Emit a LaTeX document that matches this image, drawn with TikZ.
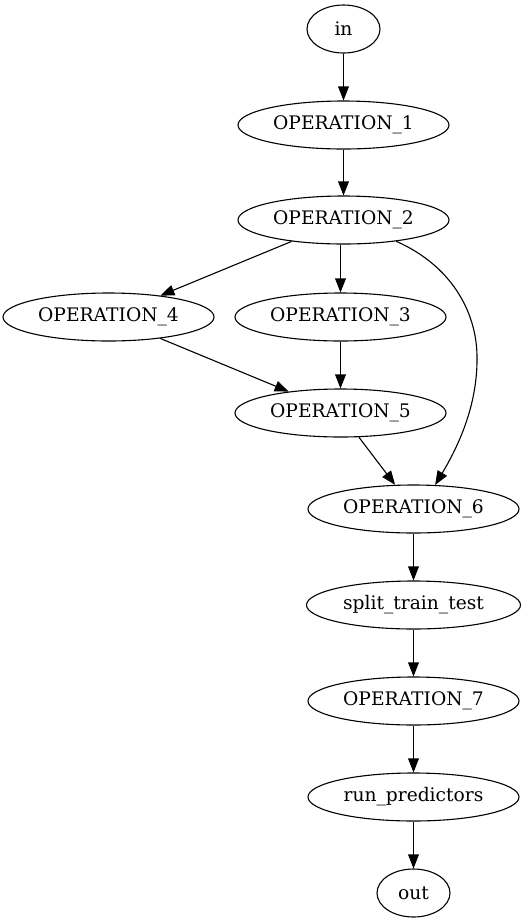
\documentclass[tikz,border=0pt]{standalone}
\usepackage{fontspec}
\setmainfont{DejaVu Serif}
\usetikzlibrary{shapes.geometric,arrows.meta}
\begin{document}
\begin{tikzpicture}[x=0.5pt,y=-0.5pt,
  op/.style={draw,ellipse,line width=0.55pt,inner sep=0pt,minimum width=105.5pt,minimum height=24pt,font=\fontsize{9.33}{11}\selectfont},
  small/.style={op,minimum width=36.5pt},
  wide/.style={op,minimum width=107pt},
  edge/.style={line width=0.55pt,-{Triangle[length=7pt,width=5.4pt]}}]
\useasboundingbox (0,0) rectangle (527,923);
\node[small] (in) at (343.5,29) {in};
\node[op] (o1) at (343.5,125) {OPERATION\_1};
\node[op] (o2) at (343.5,220) {OPERATION\_2};
\node[op] (o4) at (108.5,317) {OPERATION\_4};
\node[op] (o3) at (340.5,317) {OPERATION\_3};
\node[op] (o5) at (340.5,413) {OPERATION\_5};
\node[op] (o6) at (413.5,509) {OPERATION\_6};
\node[wide] (stt) at (413.5,605) {split\_train\_test};
\node[op] (o7) at (413.5,701) {OPERATION\_7};
\node[op] (rp) at (413.5,797) {run\_predictors};
\node[small] (out) at (413.5,893) {out};
\draw[edge] (in) -- (o1);
\draw[edge] (o1) -- (o2);
\draw[edge] (o2) -- (o4);
\draw[edge] (o2.south -| o3) -- (o3);
\draw[edge] (o4) -- (o5);
\draw[edge] (o3) -- (o5);
\draw[edge] (o5) -- (o6);
\draw[edge] (o2.-22) .. controls (450,265) and (476,310) .. (477,355) .. controls (478,400) and (462,440) .. (o6.48);
\draw[edge] (o6) -- (stt);
\draw[edge] (stt) -- (o7);
\draw[edge] (o7) -- (rp);
\draw[edge] (rp) -- (out);
\end{tikzpicture}
\end{document}
